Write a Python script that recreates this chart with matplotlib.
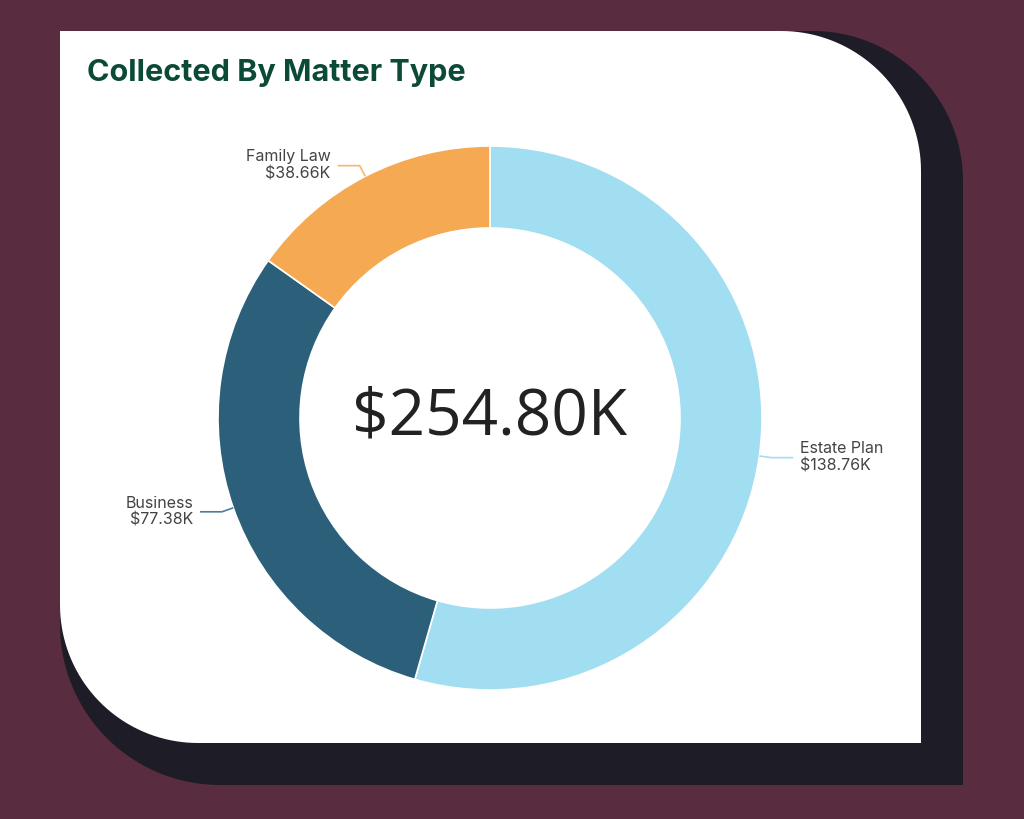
import numpy as np
import matplotlib
matplotlib.use('Agg')
import matplotlib.pyplot as plt
from matplotlib.patches import Polygon

# chart data
matter_types = ['Estate Plan', 'Business', 'Family Law']
collected_k = [138.76, 77.38, 38.66]
colors = ['#a1def1', '#2b5f7a', '#f5a953']
line_colors = ['#a1def1', '#4f7d98', '#f5b76d']
title = 'Collected By Matter Type'

W, H = 1024, 819


def card(left, top, right, bottom, r_tr, r_bl, n=40):
    # rectangle with rounded top-right and bottom-left corners (pixel coords, y down)
    pts = [(left, top)]
    t = np.linspace(np.pi / 2, 0, n)
    cx, cy = right - r_tr, top + r_tr
    pts += [(cx + r_tr * np.cos(a), cy - r_tr * np.sin(a)) for a in t]
    pts += [(right, bottom)]
    t = np.linspace(-np.pi / 2, -np.pi, n)
    cx, cy = left + r_bl, bottom - r_bl
    pts += [(cx + r_bl * np.cos(a), cy - r_bl * np.sin(a)) for a in t]
    return [(x, H - y) for x, y in pts]


fig = plt.figure(figsize=(W / 100, H / 100), dpi=100)
fig.patch.set_facecolor('#592c40')
ax = fig.add_axes([0, 0, 1, 1])
ax.set_xlim(0, W)
ax.set_ylim(0, H)
ax.set_aspect('equal')
ax.axis('off')

# shadow and card
ax.add_patch(Polygon(card(60, 31, 963, 785, 150, 160), closed=True, fc='#1e1d27', ec='none'))
ax.add_patch(Polygon(card(60, 31, 921, 743, 140, 138), closed=True, fc='white', ec='none'))

ax.text(87, H - 73, title, fontsize=22, fontweight='bold', family='Inter',
        color='#0c4a38', ha='left', va='center')

# donut
cx, cy, R = 490, H - 418, 272
wedges, _ = ax.pie(collected_k, colors=colors, startangle=90, counterclock=False,
                   center=(cx, cy), radius=R, frame=True,
                   wedgeprops=dict(width=82, edgecolor='white', linewidth=1.2))
ax.set_xlim(0, W)
ax.set_ylim(0, H)
ax.axis('off')

total = sum(collected_k)
ax.text(cx, cy, f'${total:.2f}K', fontsize=46, family='Open Sans', color='#222222',
        ha='center', va='center')

# labels with leader lines
for w, name, val, lc in zip(wedges, matter_types, collected_k, line_colors):
    ang = np.deg2rad((w.theta1 + w.theta2) / 2)
    x0, y0 = cx + R * np.cos(ang), cy + R * np.sin(ang)
    x1, y1 = cx + (R + 12) * np.cos(ang), cy + (R + 12) * np.sin(ang)
    side = 1 if np.cos(ang) > 0 else -1
    x2 = x1 + side * 22
    ax.plot([x0, x1, x2], [y0, y1, y1], color=lc, lw=1.2, solid_capstyle='butt')
    ax.text(x2 + side * 7, y1, f'{name}\n${val:.2f}K', fontsize=11.5, family='Inter',
            color='#444444', ha='left' if side > 0 else 'right', va='center',
            multialignment='left' if side > 0 else 'right', linespacing=1.2)

fig.savefig('out.png', dpi=100, facecolor=fig.get_facecolor())
